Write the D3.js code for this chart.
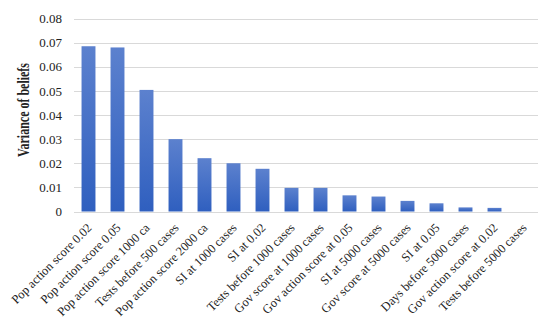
<!DOCTYPE html>
<html><head><meta charset="utf-8">
<script src="https://cdn.jsdelivr.net/npm/d3@7"></script>
<style>body{margin:0;background:#fff}svg{display:block}</style>
</head><body>
<svg id="c" width="550" height="323"></svg>
<script>
const categories = ["Pop action score 0.02","Pop action score 0.05","Pop action score 1000 ca","Tests before 500 cases","Pop action score 2000 ca","SI at 1000 cases","SI at 0.02","Tests before 1000 cases","Gov score at 1000 cases","Gov action score at 0.05","SI at 5000 cases","Gov score at 5000 cases","SI at 0.05","Days before 5000 cases","Gov action score at 0.02","Tests before 5000 cases"];
const values = [0.0685,0.068,0.0504,0.030,0.0221,0.020,0.0177,0.0098,0.0098,0.0067,0.0062,0.0044,0.0034,0.0017,0.0015,0];
const yTicks = [0,0.01,0.02,0.03,0.04,0.05,0.06,0.07,0.08];
const yTickLabels = ["0","0.01","0.02","0.03","0.04","0.05","0.06","0.07","0.08"];

const svg = d3.select("#c");
const mLeft = 74, mRight = 538, mTop = 18.5, mBottom = 211.5;
const x = d3.scaleBand().domain(categories).range([mLeft, mRight]).paddingInner(0.52).paddingOuter(0.26);
const y = d3.scaleLinear().domain([0, 0.08]).range([mBottom, mTop]);

const defs = svg.append("defs");
const g = defs.append("linearGradient").attr("id","bg").attr("x1",0).attr("y1",0).attr("x2",0).attr("y2",1);
g.append("stop").attr("offset","0%").attr("stop-color","#5c81ce");
g.append("stop").attr("offset","100%").attr("stop-color","#2f5fbf");

// gridlines
svg.append("g").selectAll("line").data(yTicks).join("line")
  .attr("x1", mLeft).attr("x2", mRight)
  .attr("y1", d => Math.round(y(d)) + 0.5).attr("y2", d => Math.round(y(d)) + 0.5)
  .attr("stroke", "#d9d9d9").attr("stroke-width", 1);

// bars
svg.append("g").selectAll("rect").data(values).join("rect")
  .attr("x", (d,i) => x(categories[i]))
  .attr("width", x.bandwidth())
  .attr("y", d => y(d))
  .attr("height", d => y(0) - y(d))
  .attr("fill", "url(#bg)");

// y axis
const yAxis = d3.axisLeft(y).tickValues(yTicks).tickFormat((d,i) => yTickLabels[i]).tickSize(0).tickPadding(12);
const ya = svg.append("g").attr("transform", `translate(${mLeft},0)`).call(yAxis);
ya.select(".domain").remove();
ya.selectAll("text").attr("font-family","'Liberation Serif', 'Times New Roman', serif").attr("font-size","13px").attr("fill","#222");

// x axis
const xAxis = d3.axisBottom(x).tickSize(0).tickPadding(0);
const xa = svg.append("g").attr("transform", `translate(0,${mBottom})`).call(xAxis);
xa.select(".domain").remove();
xa.selectAll("text")
  .attr("font-family","'Liberation Serif', 'Times New Roman', serif").attr("font-size","12.5px").attr("fill","#222")
  .attr("text-anchor","end").attr("y", 0).attr("dy","0")
  .attr("transform","translate(4,17) rotate(-45)");

// y title
svg.append("text")
  .attr("transform","translate(29,110) rotate(-90)")
  .attr("text-anchor","middle")
  .attr("font-family","'Liberation Serif', 'Times New Roman', serif")
  .attr("font-size","16px").attr("font-weight","bold").attr("fill","#222")
  .attr("textLength", 94).attr("lengthAdjust","spacingAndGlyphs")
  .text("Variance of beliefs");
</script>
</body></html>
